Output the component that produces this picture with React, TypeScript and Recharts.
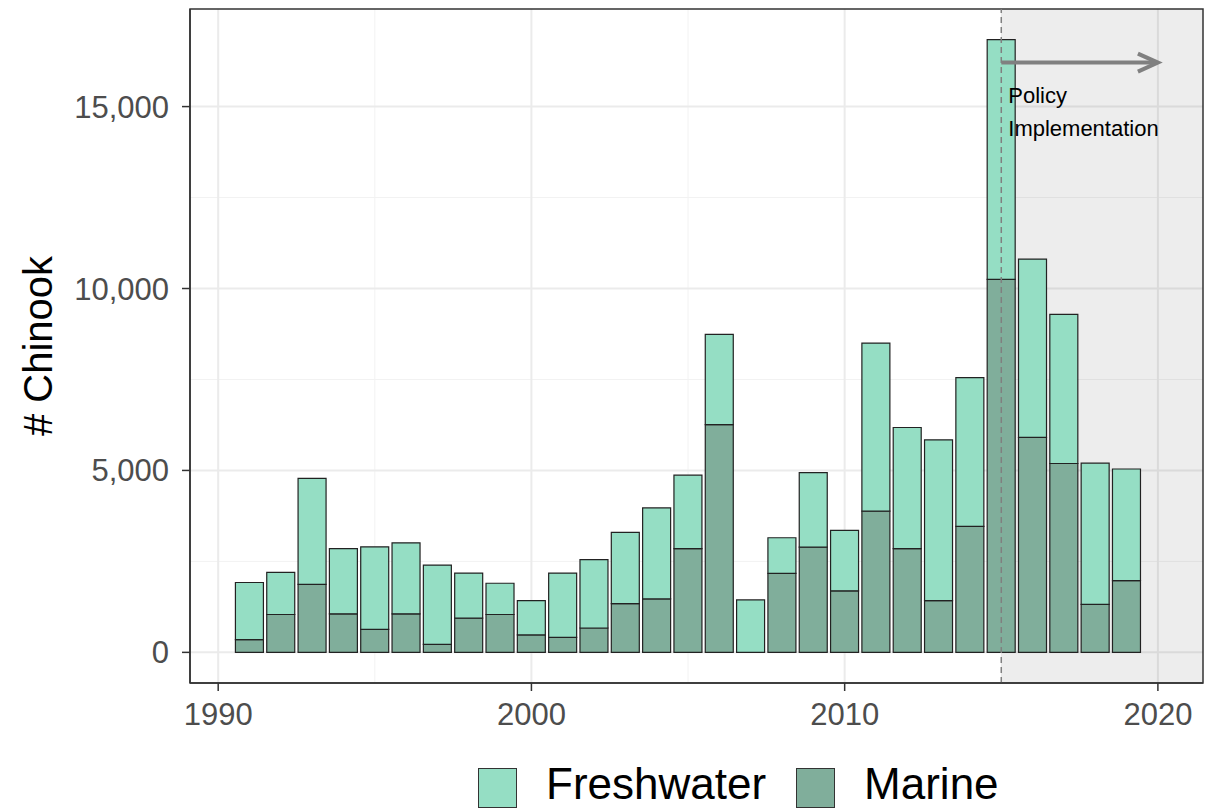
import { BarChart, Bar, XAxis, YAxis, CartesianGrid, ReferenceArea, ReferenceLine } from 'recharts';

const years = [
  1991, 1992, 1993, 1994, 1995, 1996, 1997, 1998, 1999, 2000,
  2001, 2002, 2003, 2004, 2005, 2006, 2007, 2008, 2009, 2010,
  2011, 2012, 2013, 2014, 2015, 2016, 2017, 2018, 2019,
];
const marine = [
  350, 1040, 1870, 1060, 630, 1060, 220, 940, 1040, 480,
  410, 670, 1340, 1470, 2850, 6260, 0, 2170, 2890, 1690,
  3880, 2850, 1420, 3460, 10250, 5910, 5190, 1320, 1970,
];
const freshwater = [
  1570, 1160, 2910, 1790, 2270, 1950, 2180, 1240, 860, 940,
  1770, 1880, 1960, 2500, 2020, 2480, 1440, 980, 2050, 1660,
  4620, 3330, 4420, 4090, 6590, 4900, 4100, 3880, 3070,
];
const xTicks = [1990, 2000, 2010, 2020];
const xMinor = [1995, 2005, 2015];
const yTicks = [0, 5000, 10000, 15000];
const yMinor = [2500, 7500, 12500];
const xDomain: [number, number] = [1989.1, 2021.44];
const yDomain: [number, number] = [-842, 17682];
const policyYear = 2015;
const arrowEnd = 2020;
const arrowLevel = 16210;

const FONT = '"Liberation Sans", Arial, sans-serif';
const FRESH = '#95dec4';
const MARINE = '#80ae9b';

const data = years.map((year, i) => ({ year, marine: marine[i], freshwater: freshwater[i] }));

const fmt = (v: number) => v.toLocaleString('en-US');

function PolicyArrow(props: any) {
  const { x1, y1, x2, y2 } = props;
  return (
    <g>
      <line x1={x1} y1={y1} x2={x2 - 2} y2={y2} stroke="#808080" strokeWidth={4} />
      <polyline
        points={`${x2 - 20},${y2 - 9} ${x2},${y2} ${x2 - 20},${y2 + 9}`}
        fill="none"
        stroke="#808080"
        strokeWidth={4}
      />
      <text x={x1 + 7} y={y1 + 40} fontSize={22} fontFamily={FONT} fill="#000">Policy</text>
      <text x={x1 + 7} y={y1 + 73} fontSize={22} fontFamily={FONT} fill="#000">Implementation</text>
    </g>
  );
}

function YLabel(props: any) {
  const { viewBox } = props;
  const cx = viewBox.x + 30;
  const cy = viewBox.y + viewBox.height / 2;
  return (
    <text
      x={cx}
      y={cy}
      transform={`rotate(-90 ${cx} ${cy})`}
      textAnchor="middle"
      dominantBaseline="central"
      fontSize={40}
      fontFamily={FONT}
      fill="#000"
    >
      # Chinook
    </text>
  );
}

const keyBox = (color: string) => (
  <span
    style={{
      display: 'inline-block',
      width: 39,
      height: 40,
      background: color,
      border: '1.5px solid #333',
      boxSizing: 'border-box',
    }}
  />
);

const keyText = { position: 'relative' as const, top: -4, lineHeight: '40px' };

export default function App() {
  return (
    <div style={{ position: 'relative', width: 1200, height: 802, fontFamily: FONT }}>
      <BarChart
        width={1200}
        height={740}
        data={data}
        margin={{ top: 1, right: 5, bottom: 0, left: 0 }}
        barCategoryGap="5%"
      >
        <CartesianGrid stroke="#f2f2f2" strokeWidth={1} horizontalValues={yMinor} verticalValues={xMinor} />
        <CartesianGrid stroke="#ebebeb" strokeWidth={2} horizontalValues={yTicks} verticalValues={xTicks} />
        <XAxis
          dataKey="year"
          type="number"
          domain={xDomain}
          allowDataOverflow
          ticks={xTicks}
          height={65}
          tickSize={8}
          tickMargin={12}
          tick={{ fill: '#4d4d4d', fontSize: 31, fontFamily: FONT }}
          axisLine={{ stroke: '#333', strokeWidth: 1.5 }}
          tickLine={{ stroke: '#333', strokeWidth: 1.5 }}
        />
        <YAxis
          type="number"
          domain={yDomain}
          allowDataOverflow
          ticks={yTicks}
          width={182}
          tickSize={8}
          tickMargin={13}
          tickFormatter={fmt}
          tick={{ fill: '#4d4d4d', fontSize: 31, fontFamily: FONT }}
          axisLine={{ stroke: '#333', strokeWidth: 1.5 }}
          tickLine={{ stroke: '#333', strokeWidth: 1.5 }}
          label={<YLabel />}
        />
        <Bar dataKey="marine" stackId="a" fill={MARINE} stroke="#222" strokeWidth={1.2} isAnimationActive={false} />
        <Bar dataKey="freshwater" stackId="a" fill={FRESH} stroke="#222" strokeWidth={1.2} isAnimationActive={false} />
        <ReferenceArea
          x1={policyYear}
          x2={xDomain[1]}
          y1={yDomain[0]}
          y2={yDomain[1]}
          fill="#000"
          fillOpacity={0.07}
          stroke="none"
          ifOverflow="hidden"
        />
        <ReferenceLine x={policyYear} stroke="#808080" strokeWidth={1.5} strokeDasharray="6 4" />
        <ReferenceLine
          segment={[{ x: policyYear, y: arrowLevel }, { x: arrowEnd, y: arrowLevel }]}
          shape={<PolicyArrow />}
        />
        <ReferenceArea
          x1={xDomain[0]}
          x2={xDomain[1]}
          y1={yDomain[0]}
          y2={yDomain[1]}
          fill="none"
          stroke="#333"
          strokeWidth={1.5}
        />
      </BarChart>
      <div
        style={{
          position: 'absolute',
          left: 470,
          top: 760,
          height: 40,
          display: 'flex',
          alignItems: 'center',
          fontSize: 44,
          color: '#000',
          whiteSpace: 'nowrap',
        }}
      >
        {keyBox(FRESH)}
        <span style={{ ...keyText, marginLeft: 29, marginRight: 30 }}>Freshwater</span>
        {keyBox(MARINE)}
        <span style={{ ...keyText, marginLeft: 29 }}>Marine</span>
      </div>
    </div>
  );
}
